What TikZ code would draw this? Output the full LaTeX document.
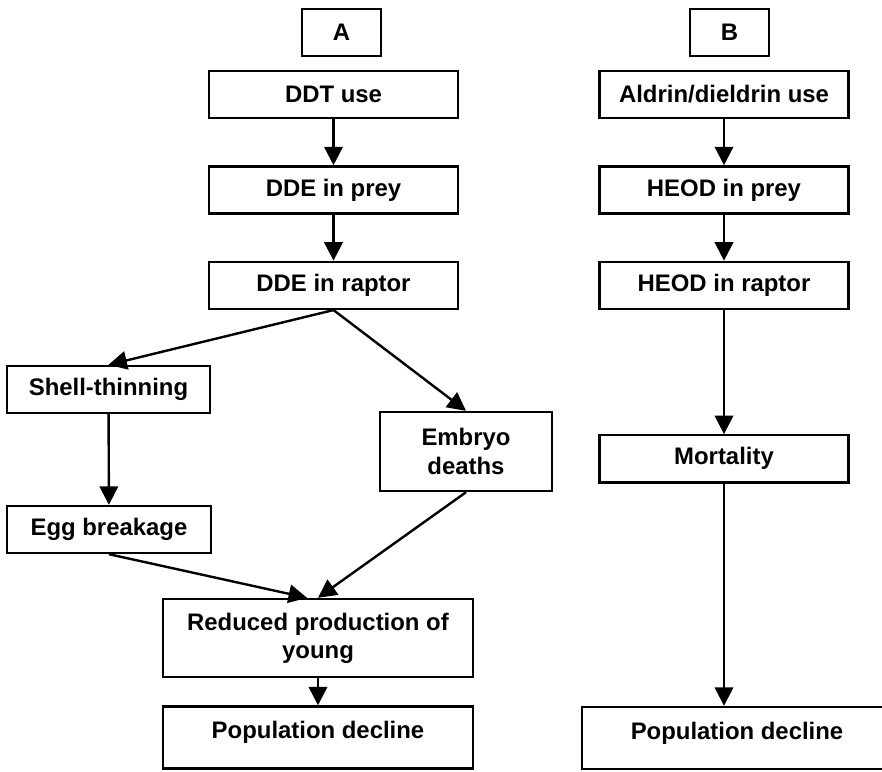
\documentclass[tikz,border=0pt]{standalone}
\usepackage{fontspec}
\setmainfont{Liberation Sans}
\usepackage{tikz}
\usetikzlibrary{arrows.meta,positioning,calc}

\begin{document}
\begin{tikzpicture}[x=0.025cm,y=-0.025cm,line width=0.06cm]
\tikzset{block/.style={rectangle,draw,font=\fontsize{17}{20}\selectfont\bfseries,align=center,inner sep=0pt}}
\tikzset{wide/.style={block,minimum width=6.225cm,minimum height=1.175cm}}
\tikzset{bottom/.style={block,minimum width=7.75cm,minimum height=1.55cm,text depth=0.38cm}}

\useasboundingbox (0,0) rectangle (882,771);

\node [block, minimum width=1.975cm, minimum height=1.175cm] (A) at (341.5,32.5) {A};
\node [block, minimum width=1.975cm, minimum height=1.175cm] (B) at (729.5,32.5) {B};

\node [wide] (ddt) at (333.5,94.5) {DDT use};
\node [wide, below=1.15cm of ddt] (ddeprey) {DDE in prey};
\node [wide, below=1.15cm of ddeprey] (dderaptor) {DDE in raptor};

\node [block, minimum width=5.075cm, minimum height=1.175cm] (shell) at (108.5,389.5) {Shell-thinning};
\node [block, minimum width=5.1cm, minimum height=1.175cm] (egg) at (109,529.5) {Egg breakage};
\node [block, minimum width=4.3cm, minimum height=1.975cm] (embryo) at (466,451.5) {Embryo\\deaths};
\node [block, minimum width=7.75cm, minimum height=1.95cm] (reduced) at (318,638) {Reduced production of\\young};
\node [bottom] (popA) at (318,737.5) {Population decline};

\node [wide, right=3.475cm of ddt] (aldrin) {Aldrin/dieldrin use};
\node [wide, below=1.15cm of aldrin] (heodprey) {HEOD in prey};
\node [wide, below=1.15cm of heodprey] (heodraptor) {HEOD in raptor};
\node [wide, below=3.1cm of heodraptor] (mortality) {Mortality};
\node [bottom] (popB) at (737,738) {Population decline};

\begin{scope}[->,>={Triangle[length=0.46cm,width=0.46cm]}]
\draw (ddt) -- (ddeprey);
\draw (ddeprey) -- (dderaptor);
\draw (dderaptor.south) -- (shell.north);
\draw (dderaptor.south) -- (embryo.north);
\draw (shell) -- (egg);
\draw (egg.south) -- ([xshift=-0.275cm]reduced.north);
\draw (embryo.south) -- (reduced.north);
\draw (reduced) -- (popA);

\draw (aldrin) -- (heodprey);
\draw (heodprey) -- (heodraptor);
\draw (heodraptor) -- (mortality);
\draw (mortality.south) -- (mortality.south |- popB.north);
\end{scope}
\end{tikzpicture}
\end{document}
